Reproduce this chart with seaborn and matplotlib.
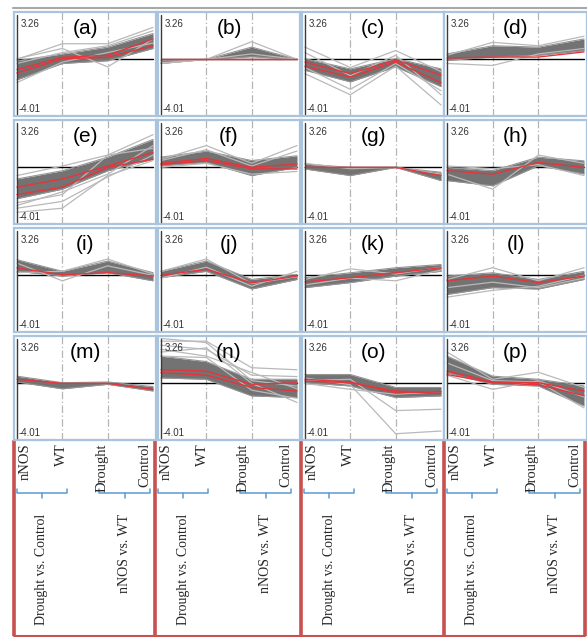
import numpy as np
import pandas as pd
import matplotlib
matplotlib.use("Agg")
import matplotlib.pyplot as plt
import seaborn as sns

# -------------------------
# DATA
# -------------------------
panel_labels = ["(a)", "(b)", "(c)", "(d)", "(e)", "(f)", "(g)", "(h)",
                "(i)", "(j)", "(k)", "(l)", "(m)", "(n)", "(o)", "(p)"]
conditions = ["nNOS", "WT", "Drought", "Control"]
group_labels = ["Drought vs. Control", "nNOS vs. WT"]
y_max, y_min = 3.26, -4.01

# dense core of the profiles, lower / upper edge at each condition
band_lo = [
    [-1.5, -0.3, -0.1, 0.8], [-0.3, 0.0, 0.2, 0.0], [-0.8, -1.65, -0.55, -2.0], [-0.07, 0.17, 0.3, 0.65],
    [-2.3, -1.6, -0.25, 0.6], [0.12, 0.36, -0.6, 0.0], [-0.12, -0.6, 0.0, -0.97], [-0.97, -1.35, 0.12, -0.48],
    [0.3, -0.05, 0.2, -0.4], [-0.17, 0.3, -1.0, -0.3], [-0.9, -0.53, -0.05, 0.3], [-1.4, -0.9, -1.0, -0.3],
    [0.1, -0.4, -0.07, -0.56], [0.4, 0.3, -0.92, -1.04], [0.05, -0.19, -1.04, -0.92], [0.78, -0.07, -0.19, -1.65],
]
band_hi = [
    [-0.1, 0.4, 0.9, 1.9], [-0.1, 0.0, 0.9, 0.0], [0.05, -0.7, 0.05, -0.7], [0.4, 1.0, 0.9, 1.5],
    [-0.85, -0.25, 0.75, 2.05], [0.75, 1.2, 0.5, 0.85], [0.24, 0.0, 0.0, -0.36], [0.0, -0.24, 0.75, 0.48],
    [1.15, 0.3, 1.05, 0.2], [0.3, 1.05, -0.3, 0.07], [-0.17, 0.19, 0.56, 0.8], [-0.05, 0.19, -0.3, 0.3],
    [0.53, 0.05, 0.1, -0.24], [2.0, 1.6, 0.3, 0.3], [0.65, 0.65, -0.3, -0.3], [2.0, 0.53, 0.3, -0.19],
]

# single light grey profiles outside / across the core
grey_lines = [
    [[0.0, 1.15, 1.15, 2.35], [0.05, 0.8, -0.55, 1.5], [-1.7, -0.2, 0.5, 1.2], [-0.3, 0.5, 1.0, 2.1]],
    [[-0.25, 0.0, 1.3, 0.0], [-0.3, 0.0, 0.4, 0.0]],
    [[0.9, -0.6, 0.65, -0.9], [-1.05, -2.6, -0.5, -3.35], [0.5, -1.2, 0.3, -2.6], [-0.6, -2.2, -0.3, -2.3]],
    [[-0.3, -0.45, 0.4, 0.8], [0.3, 1.25, 1.0, 1.7]],
    [[-3.3, -3.0, -0.6, 0.5], [-3.0, -2.5, -0.7, 0.9], [-2.6, -2.0, 0.9, 2.4], [-0.6, 0.1, 0.9, 1.4], [-2.8, -1.8, -0.5, 1.6]],
    [[0.6, 1.6, 0.3, 1.6], [0.0, 0.3, -0.5, -0.3], [0.5, 1.3, 0.1, 1.2]],
    [[0.3, -0.1, 0.0, -0.5]],
    [[-0.5, -1.6, 0.9, 0.3], [0.1, -0.1, 0.2, -0.6]],
    [[0.9, -0.4, 0.7, 0.0], [0.2, 0.3, 1.2, 0.1]],
    [[-0.2, 0.6, -0.8, 0.3], [0.3, 1.2, -0.6, -0.1]],
    [[-0.3, 0.48, 0.1, 0.6], [-0.7, -0.2, -0.4, 0.4]],
    [[-0.3, 0.56, -0.4, 0.56], [-1.6, -1.1, -0.8, 0.0], [-0.9, -0.5, -0.9, -0.2]],
    [],
    [[3.1, 3.1, 1.15, 1.0], [2.8, 2.5, 0.6, 0.5], [2.5, 2.0, 0.8, -0.4], [2.3, 2.6, 0.0, -1.4],
     [3.3, 3.0, 0.2, -0.2], [2.0, 1.9, -0.5, -1.1]],
    [[0.2, 0.3, -2.0, -1.9], [0.4, -0.1, -3.7, -3.5], [0.0, -0.44, -0.8, -0.6]],
    [[2.3, 0.3, 0.82, -0.3], [0.6, -0.44, 0.2, -1.0], [1.5, 0.2, 0.1, -1.8]],
]

# red (centroid) profiles
red_lines = [
    [[-0.75, 0.15, 0.3, 1.5], [-1.0, 0.05, 0.15, 1.0]],
    [[0.0, 0.0, 0.0, 0.0]],
    [[-0.2, -1.05, -0.05, -1.15], [-0.5, -1.3, -0.2, -1.7]],
    [[0.1, 0.17, 0.17, 0.55]],
    [[-1.45, -0.85, 0.1, 1.1], [-2.0, -1.45, 0.0, 0.6]],
    [[0.3, 0.65, 0.0, 0.25], [0.2, 0.5, -0.1, -0.12]],
    [[0.0, 0.0, 0.0, -0.6]],
    [[-0.24, -0.5, 0.36, 0.0]],
    [[0.55, 0.05, 0.2, -0.05]],
    [[0.0, 0.45, -0.55, -0.05]],
    [[-0.48, -0.17, 0.19, 0.56]],
    [[-0.4, -0.05, -0.53, -0.05]],
    [[0.3, 0.0, 0.0, -0.44]],
    [[1.0, 0.9, -0.07, 0.05], [0.78, 0.6, -0.3, -0.56]],
    [[0.17, 0.05, -0.56, -0.73], [0.3, 0.1, -0.7, -0.6]],
    [[0.9, 0.1, 0.05, -0.56], [0.65, 0.05, -0.1, -0.9]],
]


def long_df(profiles):
    rows = []
    for k, prof in enumerate(profiles):
        for j, v in enumerate(prof):
            rows.append({"line": k, "cond": j, "value": v})
    return pd.DataFrame(rows)


# -------------------------
# FIGURE
# -------------------------
sns.set_style("white")
plt.rcParams["font.family"] = ["Liberation Sans", "DejaVu Sans"]

W, H = 587, 637
fig = plt.figure(figsize=(W / 100, H / 100), dpi=100)


def px_axes(x, y, w, h):
    return fig.add_axes([x / W, 1 - (y + h) / H, w / W, h / H])


# overlay in pixel coords for frames / labels
frame = px_axes(0, 0, W, H)
frame.set_xlim(0, W)
frame.set_ylim(H, 0)
frame.axis("off")
frame.patch.set_visible(False)

frame.plot([13, W], [8, 8], color="#a8a8a8", lw=1.5)

col_x = [14, 158, 302, 444]
col_w = [142, 142, 142, 143]
row_y = [12, 120, 228, 336]
ph = 104
xs = np.arange(len(conditions))

blue_edge = "#a9c4dc"
band_col = "#737373"
grey_col = "#b9b9b9"
red_col = "#e5353b"

for i, lab in enumerate(panel_labels):
    r, c = divmod(i, 4)
    ax = px_axes(col_x[c], row_y[r], col_w[c], ph)

    ax.axvline(1, color="#b5b5b5", lw=0.9, ls=(0, (6, 2, 1, 2)), zorder=0)
    ax.axvline(2, color="#b5b5b5", lw=0.9, ls=(0, (6, 2, 1, 2)), zorder=0)
    ax.plot([0, 3], [0, 0], color="black", lw=1.0, zorder=1)

    ax.fill_between(xs, band_lo[i], band_hi[i], color=band_col, lw=0, zorder=2)
    edges = long_df([band_lo[i], band_hi[i]])
    sns.lineplot(data=edges, x="cond", y="value", units="line", estimator=None,
                 color="#949494", lw=0.8, ax=ax, legend=False, zorder=2)

    if grey_lines[i]:
        sns.lineplot(data=long_df(grey_lines[i]), x="cond", y="value", units="line",
                     estimator=None, color=grey_col, lw=0.9, ax=ax, legend=False, zorder=3)

    sns.lineplot(data=long_df(red_lines[i]), x="cond", y="value", units="line",
                 estimator=None, color=red_col, lw=1.0, ax=ax, legend=False, zorder=4)

    ax.plot([0, 0], [y_min, y_max], color="#3a3a3a", lw=1.0, zorder=5)

    ax.text(0.09, 2.62, f"{y_max:.2f}", fontsize=7, color="#333333", va="center", ha="left")
    ax.text(0.04, -3.68, f"{y_min:.2f}", fontsize=7, color="#333333", va="center", ha="left")
    ax.text(1.5, 2.3, lab, fontsize=15, color="black", va="center", ha="center", zorder=6)

    ax.set_xlim(-0.066, 3.066)
    ax.set_ylim(-4.16, 3.48)
    ax.set_xticks([])
    ax.set_yticks([])
    ax.set_xlabel("")
    ax.set_ylabel("")
    for s in ax.spines.values():
        s.set_visible(True)
        s.set_color(blue_edge)
        s.set_linewidth(1.6)

# -------------------------
# CONDITION LABEL BOXES
# -------------------------
box_x = [14, 155, 301, 444, 585]
red_edge = "#c8504e"
serif = ["Liberation Serif", "DejaVu Serif"]
cond_off = [11, 47, 88, 131]
brace_col = "#5b9bd5"

for bx in box_x:
    frame.plot([bx, bx], [440, 636], color=red_edge, lw=2.6, solid_capstyle="butt")
frame.plot([box_x[0], box_x[-1]], [635.5, 635.5], color=red_edge, lw=1.5)

for bx in box_x[:-1]:
    for off, name in zip(cond_off, conditions):
        frame.text(bx + off, 443, name, rotation=90, ha="center", va="top",
                   fontsize=10.5, family=serif)
    for (x0, x1), txt in zip([(3, 53), (85, 136)], group_labels):
        xa, xb = bx + x0, bx + x1
        xm = (xa + xb) / 2
        frame.plot([xa, xa, xb, xb], [489, 493, 493, 489], color=brace_col, lw=1.1)
        frame.plot([xm, xm], [493, 497.5], color=brace_col, lw=1.1)
        frame.text(xm, 514, txt, rotation=90, ha="center", va="top",
                   fontsize=10, family=serif)

plt.savefig("out.png", dpi=100)
plt.close()
